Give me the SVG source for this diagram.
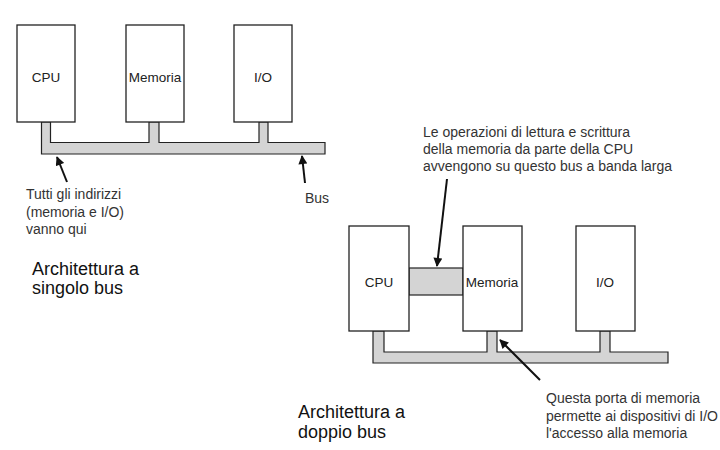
<svg xmlns="http://www.w3.org/2000/svg" width="720" height="450" viewBox="0 0 720 450">
<style>
.box{fill:#fff;stroke:#222;stroke-width:1.3}
.bus{fill:#d4d4d4;stroke:#222;stroke-width:1.2;stroke-linejoin:miter}
.lbl{font-family:"Liberation Sans",Arial,sans-serif;font-size:13.5px;fill:#222}
.note{font-family:"Liberation Sans",Arial,sans-serif;font-size:14px;fill:#333}
.title{font-family:"Liberation Sans",Arial,sans-serif;font-size:18px;fill:#111}
.arr{stroke:#111;stroke-width:2;fill:none;marker-end:url(#ah)}
</style>
<defs>
<marker id="ah" viewBox="0 0 10 10" refX="9" refY="5" markerWidth="5" markerHeight="4.5" orient="auto" markerUnits="strokeWidth">
<path d="M0,0 L10,5 L0,10 z" fill="#111"/>
</marker>
</defs>
<rect width="720" height="450" fill="#fff"/>

<g id="bus-single">
<path class="bus" d="M41.5,122 V154 H325 V142.5 H268 V122 H259 V142.5 H159 V122 H149 V142.5 H50.5 V122 Z"/>
</g>
<g id="cpu1"><rect class="box" x="17" y="25" width="58" height="97"/><text class="lbl" x="46" y="82" text-anchor="middle">CPU</text></g>
<g id="mem1"><rect class="box" x="126" y="25" width="58" height="97"/><text class="lbl" x="155" y="82" text-anchor="middle">Memoria</text></g>
<g id="io1"><rect class="box" x="234" y="25" width="58" height="97"/><text class="lbl" x="263" y="82" text-anchor="middle">I/O</text></g>

<g id="bus-double">
<path class="bus" d="M373,331 V363 H668 V352 H610 V331 H600 V352 H497 V331 H487 V352 H384 V331 Z"/>
<rect class="bus" x="409" y="268" width="54" height="27"/>
</g>
<g id="cpu2"><rect class="box" x="349" y="226" width="60" height="105"/><text class="lbl" x="379" y="287" text-anchor="middle">CPU</text></g>
<g id="mem2"><rect class="box" x="463" y="226" width="59" height="105"/><text class="lbl" x="492" y="287" text-anchor="middle">Memoria</text></g>
<g id="io2"><rect class="box" x="576" y="226" width="59" height="105"/><text class="lbl" x="605" y="287" text-anchor="middle">I/O</text></g>

<g id="connectors">
<line class="arr" x1="67" y1="182" x2="57" y2="157"/>
<line class="arr" x1="305" y1="183" x2="302" y2="156"/>
<line class="arr" x1="447" y1="179" x2="437" y2="266"/>
<line class="arr" x1="540" y1="380" x2="500" y2="340"/>
</g>

<g id="notes">
<text class="note" x="26" y="199">Tutti gli indirizzi</text>
<text class="note" x="26" y="216.5">(memoria e I/O)</text>
<text class="note" x="26" y="234">vanno qui</text>
<text class="note" x="305" y="203">Bus</text>
<text class="note" x="423" y="137">Le operazioni di lettura e scrittura</text>
<text class="note" x="423" y="154">della memoria da parte della CPU</text>
<text class="note" x="423" y="171">avvengono su questo bus a banda larga</text>
<text class="note" x="546" y="403">Questa porta di memoria</text>
<text class="note" x="546" y="421">permette ai dispositivi di I/O</text>
<text class="note" x="546" y="438">l'accesso alla memoria</text>
<text class="title" x="32" y="275">Architettura a</text>
<text class="title" x="32" y="294">singolo bus</text>
<text class="title" x="298" y="418">Architettura a</text>
<text class="title" x="298" y="438">doppio bus</text>
</g>
</svg>
